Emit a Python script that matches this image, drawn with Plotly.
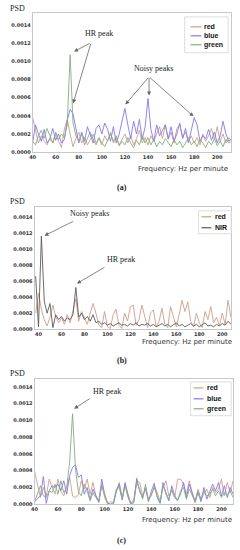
import plotly.graph_objects as go

# ---------------- data (PSD in units of 1e-4) ----------------
freq_a = [40 + 2.5 * i for i in range(70)]  # 40 .. 212.5
red_a = [3.8, 2.5, 1.0, 1.8, 1.2, 0.8, 1.5, 1.0, 2.0, 1.2, 0.5, 2.5, 3.6, 2.0, 0.6, 1.5, 2.2, 1.0, 1.6, 0.8,
         1.4, 2.0, 1.0, 1.5, 0.8, 1.8, 1.2, 2.2, 1.0, 1.6, 0.8, 1.4, 2.0, 1.0, 1.8, 0.8, 1.5, 2.4, 1.0, 1.6,
         0.8, 1.8, 1.2, 2.0, 2.8, 1.5, 3.0, 1.4, 2.2, 1.0, 2.6, 3.0, 1.6, 2.2, 1.2, 1.8, 1.0, 1.6, 0.8, 2.0,
         1.2, 1.8, 2.6, 1.4, 2.8, 1.2, 2.0, 1.0, 1.6, 1.2]
blue_a = [1.0, 3.0, 2.0, 1.2, 2.5, 1.0, 1.5, 2.6, 1.3, 2.0, 1.0, 1.4, 3.5, 4.7, 4.2, 2.5, 1.0, 2.2, 1.2, 2.8,
          1.8, 1.0, 2.6, 3.0, 2.0, 3.2, 2.5, 1.2, 2.8, 1.0, 2.0, 3.5, 4.8, 3.0, 1.5, 3.4, 2.0, 3.6, 1.4, 2.8,
          5.9, 2.5, 1.2, 3.0, 1.8, 2.4, 3.0, 1.5, 2.8, 1.2, 2.0, 3.2, 1.5, 2.6, 1.0, 2.4, 3.8, 3.0, 1.2, 1.8,
          1.5, 2.5, 1.3, 2.2, 1.0, 1.8, 3.4, 2.0, 1.2, 1.5]
green_a = [1.2, 0.8, 1.8, 2.4, 1.5, 2.6, 1.8, 1.0, 2.2, 1.4, 2.0, 1.6, 3.0, 10.7, 3.2, 1.8, 1.2, 2.0, 0.8, 1.5,
           2.2, 1.4, 0.8, 1.6, 1.0, 0.6, 1.4, 2.0, 1.2, 1.8, 0.7, 1.2, 0.8, 1.6, 1.0, 0.5, 1.3, 0.8, 1.8, 1.0,
           1.6, 0.8, 1.4, 0.6, 1.2, 0.8, 1.5, 1.0, 0.6, 1.4, 0.8, 1.2, 0.5, 1.0, 1.6, 0.8, 1.2, 0.6, 1.4, 1.0,
           0.5, 1.2, 0.8, 1.5, 0.7, 1.2, 0.6, 1.4, 1.0, 1.2]

freq_b = [37.5 + 2.5 * i for i in range(69)]  # 37.5 .. 207.5
red_b = [2.0, 4.5, 2.5, 1.2, 0.4, 1.5, 3.0, 1.6, 0.8, 1.4, 0.6, 1.8, 0.8, 2.5, 3.8, 1.0, 2.2, 1.4, 0.6, 2.0,
         3.2, 2.0, 0.5, 0.2, 2.2, 0.3, 0.1, 1.8, 2.5, 0.5, 0.1, 2.0, 1.0, 2.8, 3.0, 0.5, 1.2, 3.0, 1.5, 0.2,
         2.0, 2.4, 0.3, 1.0, 2.6, 0.6, 0.2, 2.8, 1.5, 0.3, 1.8, 3.6, 2.2, 3.4, 1.0, 0.3, 2.0, 0.8, 0.2, 2.2,
         1.2, 2.8, 0.8, 1.5, 0.4, 2.0, 0.6, 3.6, 1.5]
nir_b = [6.6, 0.3, 11.6, 3.5, 2.0, 3.2, 0.2, 1.8, 1.2, 1.6, 1.0, 1.4, 1.2, 1.8, 5.2, 1.5, 2.0, 1.2, 1.6, 1.0,
         1.8, 0.8, 1.0, 0.6, 0.8, 0.5, 0.7, 0.4, 0.6, 0.8, 0.5, 0.6, 0.4, 0.7, 0.5, 0.8, 0.4, 0.6, 0.5, 0.7,
         0.4, 0.6, 0.3, 0.5, 0.7, 0.4, 0.6, 0.3, 0.5, 0.8, 0.4, 0.6, 0.3, 0.5, 0.7, 0.4, 0.6, 0.3, 0.5, 0.8,
         0.4, 0.5, 0.3, 0.6, 0.4, 0.7, 0.5, 1.0, 0.6]

freq_c = [40 + 2.5 * i for i in range(69)]  # 40 .. 210
red_c = [3.9, 2.5, 0.8, 2.0, 1.0, 3.0, 2.0, 1.2, 3.0, 1.5, 1.0, 2.2, 3.2, 1.0, 0.8, 1.2, 2.8, 1.8, 3.0, 1.2,
         2.6, 1.0, 0.4, 2.4, 0.8, 0.1, 0.3, 0.2, 1.6, 2.6, 0.8, 2.4, 1.2, 0.1, 0.6, 2.8, 2.6, 1.0, 1.8, 0.6,
         1.0, 2.2, 1.4, 0.3, 2.0, 2.8, 1.0, 1.6, 0.8, 3.0, 3.0, 2.4, 1.2, 2.8, 1.4, 0.4, 1.8, 0.6, 1.2, 1.8,
         0.8, 2.0, 1.4, 1.8, 3.0, 1.0, 2.6, 1.4, 2.8]
blue_c = [0.3, 0.6, 1.0, 3.3, 0.1, 1.6, 2.2, 2.0, 2.4, 1.6, 2.8, 1.2, 3.4, 4.4, 4.7, 3.2, 3.5, 1.2, 2.0, 0.6,
          1.8, 1.0, 0.2, 3.0, 1.2, 0.1, 0.0, 0.0, 1.5, 2.4, 0.5, 2.6, 1.0, 0.0, 0.2, 3.1, 1.5, 0.8, 2.0, 0.3,
          1.6, 2.5, 0.8, 0.1, 2.6, 1.2, 0.4, 2.2, 1.0, 0.5, 1.2, 2.6, 0.8, 2.4, 1.2, 0.2, 1.4, 0.3, 2.0, 0.6,
          1.5, 2.4, 1.6, 2.6, 1.0, 2.2, 0.8, 2.0, 1.2]
green_c = [0.3, 1.2, 2.2, 1.0, 0.8, 1.6, 1.4, 2.4, 1.2, 2.8, 1.4, 2.0, 5.0, 10.8, 4.2, 1.5, 1.0, 2.4, 1.6, 0.4,
           1.4, 0.8, 0.3, 2.2, 1.0, 0.1, 0.0, 0.2, 1.8, 2.0, 0.6, 2.2, 0.8, 0.0, 0.3, 2.6, 1.8, 0.6, 2.4, 0.4,
           1.2, 2.0, 1.0, 0.2, 2.2, 1.4, 0.6, 1.8, 0.8, 0.4, 1.6, 2.0, 0.6, 1.8, 1.0, 0.3, 1.6, 0.5, 1.6, 1.0,
           1.2, 1.8, 1.0, 1.6, 0.8, 1.4, 1.0, 1.6, 0.8]

x_ticks = [40, 60, 80, 100, 120, 140, 160, 180, 200]
y_tickvals = [0, 2, 4, 6, 8, 10, 12, 14]
y_ticktext = ["0.0000", "0.0002", "0.0004", "0.0006", "0.0008", "0.0010", "0.0012", "0.0014"]

# ---------------- styles ----------------
C_RED = "#cc9e8c"
C_BLUE = "#8478ee"
C_GREEN = "#86ad7e"
C_NIR = "#5a5a5a"
W, H = 240, 550

def px(x):
    return x / W

def py(y):
    return 1 - y / H

fig = go.Figure()

def add(xs, ys, name, color, xa, ya):
    fig.add_trace(go.Scatter(x=xs, y=ys, name=name, mode="lines", showlegend=False,
                             line=dict(color=color, width=0.9), xaxis=xa, yaxis=ya))

add(freq_a, red_a, "red", C_RED, "x", "y")
add(freq_a, blue_a, "blue", C_BLUE, "x", "y")
add(freq_a, green_a, "green", C_GREEN, "x", "y")
add(freq_b, red_b, "red", C_RED, "x2", "y2")
add(freq_b, nir_b, "NIR", C_NIR, "x2", "y2")
add(freq_c, red_c, "red", C_RED, "x3", "y3")
add(freq_c, blue_c, "blue", C_BLUE, "x3", "y3")
add(freq_c, green_c, "green", C_GREEN, "x3", "y3")

tickfont = dict(family="DejaVu Sans", size=5, color="#333", weight="bold")
axis_common = dict(showgrid=False, zeroline=False, showline=True, mirror=True,
                   linecolor="#c8c8c8", linewidth=1, ticks="", tickfont=tickfont)

def xa(domain, rng, anchor):
    return dict(axis_common, domain=domain, range=rng, tickvals=x_ticks, anchor=anchor)

def ya(domain, rng, anchor):
    return dict(axis_common, domain=domain, range=rng, tickvals=y_tickvals,
                ticktext=y_ticktext, anchor=anchor)

fig.update_layout(
    width=W, height=H, margin=dict(l=0, r=0, t=0, b=0),
    paper_bgcolor="white", plot_bgcolor="white", showlegend=False,
    xaxis=xa([px(30), px(231)], [40, 212], "y"),
    yaxis=ya([py(153), py(13)], [0, 15.3], "x"),
    xaxis2=xa([px(32), px(231)], [36.6, 207.7], "y2"),
    yaxis2=ya([py(331), py(208)], [0, 15.24], "x2"),
    xaxis3=xa([px(32), px(233)], [40, 210], "y3"),
    yaxis3=ya([py(507), py(381)], [0, 14.95], "x3"),
)

serif = dict(family="Liberation Serif", size=8, color="#222")
sans = dict(family="DejaVu Sans", size=7, color="#333")
legfont = dict(family="Liberation Sans", size=7, color="#111", weight="bold")

def text(t, x, y, font, xanchor="center"):
    fig.add_annotation(text=t, x=px(x), y=py(y), xref="paper", yref="paper",
                       showarrow=False, font=font, xanchor=xanchor, yanchor="middle")

for yy in (9, 203, 376):
    text("PSD", 15, yy, serif)
text("Frequency: Hz per minute", 182, 170, sans)
text("Frequency: Hz per minute", 186, 344, sans)
text("Frequency: Hz per minute", 186, 523, sans)
text("<b>(a)</b>", 120, 189, serif)
text("<b>(b)</b>", 120, 362, serif)
text("<b>(c)</b>", 120, 543, serif)

# legends (box, line samples, labels)
def legend(box, x0, x1, xt, rows):
    fig.add_shape(type="rect", xref="paper", yref="paper",
                  x0=px(box[0]), x1=px(box[1]), y0=py(box[3]), y1=py(box[2]),
                  fillcolor="white", line=dict(color="#dddddd", width=1))
    for name, color, yy in rows:
        fig.add_shape(type="line", xref="paper", yref="paper",
                      x0=px(x0), x1=px(x1), y0=py(yy), y1=py(yy),
                      line=dict(color=color, width=1.2))
        text(name, xt, yy, legfont, xanchor="left")

legend((184, 228, 17, 53), 190, 201, 202,
       [("red", C_RED, 27), ("blue", C_BLUE, 36), ("green", C_GREEN, 45)])
legend((198, 231, 212, 235), 201, 211, 213,
       [("red", C_RED, 218), ("NIR", C_NIR, 229)])
legend((190, 231, 384, 418), 193, 203, 205,
       [("red", C_RED, 390), ("blue", C_BLUE, 401), ("green", C_GREEN, 411)])

def datatext(t, x, y, xr, yr):
    fig.add_annotation(text=t, x=x, y=y, xref=xr, yref=yr, showarrow=False, font=serif)

datatext("HR peak", 97.3, 13.0, "x", "y")
datatext("Noisy peaks", 144.4, 9.2, "x", "y")
datatext("Noisy peaks", 84.7, 14.4, "x2", "y2")
datatext("HR peak", 111.4, 8.7, "x2", "y2")
datatext("HR peak", 101.8, 13.5, "x3", "y3")

def arrow(x, y, ax, ay, xr, yr):
    fig.add_annotation(text="", x=x, y=y, xref=xr, yref=yr, ax=ax, ay=ay,
                       showarrow=True, arrowhead=2, arrowsize=1, arrowwidth=0.8,
                       arrowcolor="#666")

arrow(75.9, 11.05, 17, -9, "x", "y")
arrow(75.1, 5.36, 18, -61, "x", "y")
arrow(120.4, 5.25, 24, -28, "x", "y")
arrow(140.9, 6.24, 0, -19, "x", "y")
arrow(179.4, 3.94, -45, -40, "x", "y")
arrow(45.2, 11.65, 30, -15, "x2", "y2")
arrow(73.5, 5.7, 29, -17, "x2", "y2")
arrow(73.9, 11.4, 17, -11, "x3", "y3")

fig.write_html("out.html", config={"displayModeBar": False},
               post_script="document.body.style.margin='0';")
